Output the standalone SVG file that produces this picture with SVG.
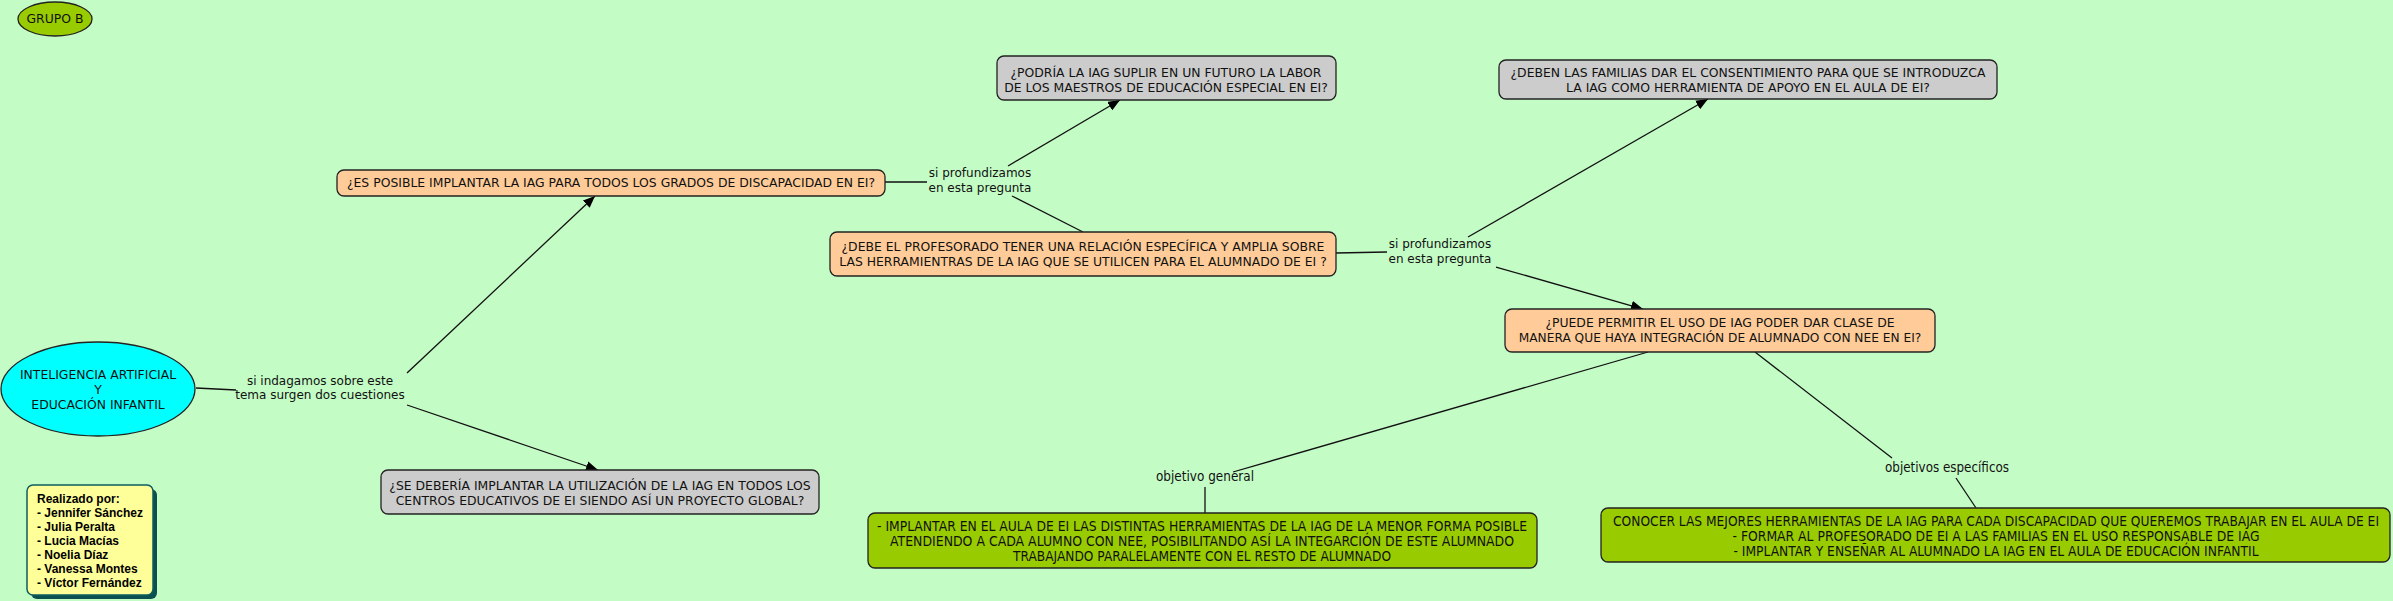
<svg xmlns="http://www.w3.org/2000/svg" width="2393" height="601" viewBox="0 0 2393 601">
<defs>
<style>
.t{font-family:"DejaVu Sans",Verdana,sans-serif;font-size:12.4px;fill:#111;text-anchor:middle}
.l{font-family:"DejaVu Sans",Verdana,sans-serif;font-size:12px;fill:#111;text-anchor:middle}
.c{font-family:"DejaVu Sans",Verdana,sans-serif;font-size:14px;fill:#111;text-anchor:middle}
.lg{font-family:"Liberation Sans",Arial,sans-serif;font-size:12px;font-weight:bold;fill:#000}
.peach{fill:#ffcc99;stroke:#222;stroke-width:1.3}
.gray{fill:#cccccc;stroke:#222;stroke-width:1.3}
.green{fill:#99cc00;stroke:#222;stroke-width:1.3}
.ln{stroke:#111;stroke-width:1.3;fill:none}
</style>
<marker id="ah" viewBox="0 0 12 10" refX="12" refY="5" markerWidth="12" markerHeight="10" markerUnits="userSpaceOnUse" orient="auto">
<path d="M0,0 L12,5 L0,10 z" fill="#000"/>
</marker>
</defs>
<rect x="0" y="0" width="2393" height="601" fill="#c4fcc6"/>

<g id="connectors">
<line class="ln" x1="196" y1="388" x2="236" y2="390"/>
<line class="ln" x1="407" y1="373" x2="595" y2="196" marker-end="url(#ah)"/>
<line class="ln" x1="407" y1="405" x2="598" y2="470" marker-end="url(#ah)"/>
<line class="ln" x1="885" y1="182" x2="927" y2="182"/>
<line class="ln" x1="1008" y1="166" x2="1120" y2="100" marker-end="url(#ah)"/>
<line class="ln" x1="1012" y1="196" x2="1083" y2="232"/>
<line class="ln" x1="1336" y1="253" x2="1387" y2="252"/>
<line class="ln" x1="1468" y1="237" x2="1708" y2="99" marker-end="url(#ah)"/>
<line class="ln" x1="1496" y1="267" x2="1643" y2="309" marker-end="url(#ah)"/>
<line class="ln" x1="1648" y1="352" x2="1233" y2="472"/>
<line class="ln" x1="1205" y1="487" x2="1205" y2="513"/>
<line class="ln" x1="1755" y1="352" x2="1892" y2="458"/>
<line class="ln" x1="1956" y1="478" x2="1976" y2="508"/>
</g>

<g id="grupo-b">
<ellipse cx="55" cy="19" rx="37" ry="17" class="green"/>
<text class="t" x="55" y="23">GRUPO B</text>
</g>

<g id="ia-ei">
<ellipse cx="98" cy="389" rx="97" ry="47" fill="#00ffff" stroke="#222" stroke-width="1.3"/>
<text class="t" x="98" y="379">INTELIGENCIA ARTIFICIAL</text>
<text class="t" x="98" y="394">Y</text>
<text class="t" x="98" y="409">EDUCACIÓN INFANTIL</text>
</g>

<g id="label-indagamos">
<text class="l" x="320" y="385">si indagamos sobre este</text>
<text class="l" x="320" y="399">tema surgen dos cuestiones</text>
</g>

<g id="es-posible">
<rect x="337" y="170" width="548" height="26" rx="7" class="peach"/>
<text class="t" x="611" y="187">¿ES POSIBLE IMPLANTAR LA IAG PARA TODOS LOS GRADOS DE DISCAPACIDAD EN EI?</text>
</g>

<g id="se-deberia">
<rect x="381" y="470" width="438" height="44" rx="7" class="gray"/>
<text class="t" x="600" y="490">¿SE DEBERÍA IMPLANTAR LA UTILIZACIÓN DE LA IAG EN TODOS LOS</text>
<text class="t" x="600" y="505">CENTROS EDUCATIVOS DE EI SIENDO ASÍ UN PROYECTO GLOBAL?</text>
</g>

<g id="label-profundizamos-1">
<text class="l" x="980" y="177">si profundizamos</text>
<text class="l" x="980" y="192">en esta pregunta</text>
</g>

<g id="podria">
<rect x="997" y="56" width="339" height="44" rx="7" class="gray"/>
<text class="t" x="1166" y="77">¿PODRÍA LA IAG SUPLIR EN UN FUTURO LA LABOR</text>
<text class="t" x="1166" y="92">DE LOS MAESTROS DE EDUCACIÓN ESPECIAL EN EI?</text>
</g>

<g id="debe-profesorado">
<rect x="830" y="232" width="506" height="44" rx="7" class="peach"/>
<text class="t" x="1083" y="251">¿DEBE EL PROFESORADO TENER UNA RELACIÓN ESPECÍFICA Y AMPLIA SOBRE</text>
<text class="t" x="1083" y="266">LAS HERRAMIENTRAS DE LA IAG QUE SE UTILICEN PARA EL ALUMNADO DE EI ?</text>
</g>

<g id="label-profundizamos-2">
<text class="l" x="1440" y="248">si profundizamos</text>
<text class="l" x="1440" y="263">en esta pregunta</text>
</g>

<g id="deben-familias">
<rect x="1499" y="60" width="498" height="39" rx="7" class="gray"/>
<text class="t" x="1748" y="77">¿DEBEN LAS FAMILIAS DAR EL CONSENTIMIENTO PARA QUE SE INTRODUZCA</text>
<text class="t" x="1748" y="92">LA IAG COMO HERRAMIENTA DE APOYO EN EL AULA DE EI?</text>
</g>

<g id="puede-permitir">
<rect x="1505" y="309" width="430" height="43" rx="7" class="peach"/>
<text class="t" x="1720" y="327">¿PUEDE PERMITIR EL USO DE IAG PODER DAR CLASE DE</text>
<text class="t" x="1720" y="342" style="font-size:12.2px">MANERA QUE HAYA INTEGRACIÓN DE ALUMNADO CON NEE EN EI?</text>
</g>

<g id="label-objetivo-general">
<text class="c" x="1205" y="481" textLength="98" lengthAdjust="spacingAndGlyphs">objetivo general</text>
</g>

<g id="objetivo-general">
<rect x="868" y="513" width="669" height="55" rx="7" class="green"/>
<text class="c" x="1202" y="531" textLength="650" lengthAdjust="spacingAndGlyphs">- IMPLANTAR EN EL AULA DE EI LAS DISTINTAS HERRAMIENTAS DE LA IAG DE LA MENOR FORMA POSIBLE</text>
<text class="c" x="1202" y="546" textLength="624" lengthAdjust="spacingAndGlyphs">ATENDIENDO A CADA ALUMNO CON NEE, POSIBILITANDO ASÍ LA INTEGARCIÓN DE ESTE ALUMNADO</text>
<text class="c" x="1202" y="561" textLength="378" lengthAdjust="spacingAndGlyphs">TRABAJANDO PARALELAMENTE CON EL RESTO DE ALUMNADO</text>
</g>

<g id="label-objetivos-especificos">
<text class="c" x="1947" y="472" textLength="124" lengthAdjust="spacingAndGlyphs">objetivos específicos</text>
</g>

<g id="objetivos-especificos">
<rect x="1601" y="508" width="789" height="54" rx="7" class="green"/>
<text class="c" x="1996" y="526" textLength="766" lengthAdjust="spacingAndGlyphs">CONOCER LAS MEJORES HERRAMIENTAS DE LA IAG PARA CADA DISCAPACIDAD QUE QUEREMOS TRABAJAR EN EL AULA DE EI</text>
<text class="c" x="1996" y="541" textLength="527" lengthAdjust="spacingAndGlyphs">- FORMAR AL PROFESORADO DE EI A LAS FAMILIAS EN EL USO RESPONSABLE DE IAG</text>
<text class="c" x="1996" y="556" textLength="525" lengthAdjust="spacingAndGlyphs">- IMPLANTAR Y ENSEÑAR AL ALUMNADO LA IAG EN EL AULA DE EDUCACIÓN INFANTIL</text>
</g>

<g id="realizado-por">
<rect x="31" y="489" width="126" height="110" rx="6" fill="#0b4f4f"/>
<rect x="27" y="485" width="126" height="110" rx="6" fill="#ffff99" stroke="#0b5f5f" stroke-width="1.5"/>
<text class="lg" x="37" y="503">Realizado por:</text>
<text class="lg" x="37" y="517">- Jennifer Sánchez</text>
<text class="lg" x="37" y="531">- Julia Peralta</text>
<text class="lg" x="37" y="545">- Lucia Macías</text>
<text class="lg" x="37" y="559">- Noelia Díaz</text>
<text class="lg" x="37" y="573">- Vanessa Montes</text>
<text class="lg" x="37" y="587">- Víctor Fernández</text>
</g>
</svg>
